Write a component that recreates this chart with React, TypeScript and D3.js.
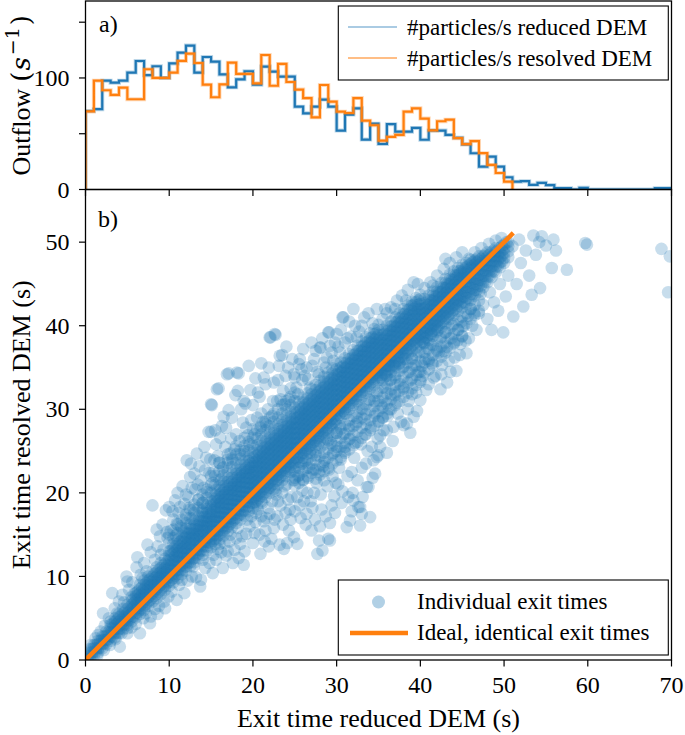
import React from 'react';
import * as d3 from 'd3';

const W = 685;
const H = 735;
const FONT = '"Liberation Serif", "Times New Roman", "DejaVu Serif", serif';
const MATH_FONT = '"DejaVu Serif", "Liberation Serif", serif';
const BLUE = '#1f77b4';
const ORANGE = '#ff7f0e';

// outflow histograms, 1 s bins starting at 0 s
const binWidth = 1;
const reducedCounts = [
  70.4, 72, 97.6, 95.8, 97.6, 104.8, 115.2, 102.5, 110.5, 100,
  113, 122.7, 129, 104.8, 118.8, 114.6, 103.2, 91.6, 98.8, 106,
  94, 110.2, 105.7, 101.2, 101.2, 74.3, 68.3, 74.3, 80.6, 74.3,
  52.8, 67.2, 72.8, 44.8, 59, 40.8, 58.6, 51.8, 51.8, 55.2,
  44.6, 53, 52.8, 48.9, 46.4, 40.5, 32.5, 20.5, 29.4, 20.5,
  11, 7, 7.5, 4.2, 6, 4, 1.2, 1.2, 0, 1.5,
  0, 0, 0, 0, 0, 0, 0, 0, 1.2, 1.2,
];
const resolvedCounts = [
  70, 97.6, 89, 84.8, 91.3, 80.9, 80.9, 107.8, 100, 100,
  104.8, 115.3, 121.8, 113.4, 94, 82.7, 94.2, 113.7, 103.6, 103.6,
  95.2, 120.6, 93, 112.6, 96.4, 89.6, 82, 64.7, 93.7, 78.7,
  69.8, 68.6, 82, 61.7, 57.6, 43.8, 47.2, 48.9, 69.8, 72.8,
  63.6, 53, 61.2, 62.6, 46, 40.6, 43.4, 32.6, 22, 14.8,
  7,
];

const xTicks = [0, 10, 20, 30, 40, 50, 60, 70];
const outflowTicks = [0, 50, 100, 150];
const outflowLabels = [0, 100];
const exitTicks = [0, 10, 20, 30, 40, 50];

// reference line of identical exit times
const idealLine: [number, number][] = [[0, 0], [51.1, 51.1]];

// individual exit times (reduced DEM, resolved DEM), dense band read column by column
const coreColumns: [number, number[]][] = [
  [0.5, [0.1, 0.5, 0.9, 1.3]],
  [1, [0.5, 1.0, 1.4, 1.8]],
  [1.5, [0.9, 1.4, 1.9, 2.3]],
  [2, [1.4, 1.9, 2.4, 2.8]],
  [2.5, [1.9, 2.4, 2.9, 3.4]],
  [3, [2.3, 2.8, 3.3, 3.8, 4.2]],
  [3.5, [2.7, 3.2, 3.7, 4.1, 4.6, 5.0]],
  [4, [3.2, 3.7, 4.1, 4.6, 5.1, 5.5]],
  [4.5, [3.7, 4.2, 4.6, 5.1, 5.6, 6.1]],
  [5, [4.2, 4.7, 5.1, 5.6, 6.1, 6.6]],
  [5.5, [4.6, 5.1, 5.6, 6.1, 6.6, 7.1, 7.5]],
  [6, [5.1, 5.6, 6.1, 6.6, 7.1, 7.6, 8.0]],
  [6.5, [5.5, 6.0, 6.5, 7.0, 7.5, 8.0, 8.5, 9.0]],
  [7, [6.0, 6.5, 7.0, 7.5, 8.0, 8.5, 9.0, 9.5]],
  [7.5, [6.5, 7.0, 7.5, 8.0, 8.5, 9.0, 9.5, 10.0]],
  [8, [7.0, 7.5, 8.0, 8.5, 9.0, 9.5, 10.0, 10.6]],
  [8.5, [7.4, 7.9, 8.5, 9.0, 9.5, 10.0, 10.5, 11.1]],
  [9, [7.9, 8.4, 9.0, 9.5, 10.0, 10.5, 11.0, 11.6]],
  [9.5, [8.4, 8.9, 9.4, 10.0, 10.5, 11.0, 11.5, 12.1]],
  [10, [8.9, 9.4, 9.9, 10.4, 11.0, 11.5, 12.0, 12.5, 13.0]],
  [10.5, [9.3, 9.8, 10.3, 10.8, 11.3, 11.8, 12.3, 12.8, 13.3, 13.9]],
  [11, [9.8, 10.3, 10.8, 11.3, 11.8, 12.3, 12.8, 13.3, 13.8, 14.4]],
  [11.5, [10.3, 10.8, 11.3, 11.8, 12.3, 12.8, 13.3, 13.8, 14.3, 14.9]],
  [12, [10.7, 11.2, 11.7, 12.2, 12.7, 13.2, 13.7, 14.2, 14.7, 15.2, 15.7]],
  [12.5, [11.2, 11.7, 12.2, 12.7, 13.2, 13.7, 14.2, 14.7, 15.2, 15.7, 16.2]],
  [13, [11.7, 12.2, 12.7, 13.2, 13.7, 14.2, 14.7, 15.2, 15.7, 16.2, 16.7]],
  [13.5, [12.2, 12.7, 13.2, 13.7, 14.2, 14.7, 15.2, 15.7, 16.2, 16.7, 17.2]],
  [14, [12.6, 13.1, 13.6, 14.1, 14.6, 15.1, 15.6, 16.1, 16.6, 17.1, 17.6, 18.0]],
  [14.5, [13.1, 13.6, 14.1, 14.6, 15.1, 15.6, 16.1, 16.6, 17.1, 17.6, 18.1, 18.5]],
  [15, [13.5, 14.0, 14.5, 15.0, 15.5, 16.0, 16.5, 17.0, 17.5, 18.0, 18.5, 19.0]],
  [15.5, [13.9, 14.5, 15.0, 15.5, 16.1, 16.6, 17.1, 17.7, 18.2, 18.7, 19.3, 19.8, 20.3]],
  [16, [14.4, 15.0, 15.5, 16.0, 16.6, 17.1, 17.6, 18.2, 18.7, 19.2, 19.8, 20.3, 20.8]],
  [16.5, [14.9, 15.5, 16.0, 16.5, 17.1, 17.6, 18.1, 18.7, 19.2, 19.7, 20.3, 20.8, 21.3]],
  [17, [15.4, 16.0, 16.5, 17.0, 17.6, 18.1, 18.6, 19.2, 19.7, 20.2, 20.8, 21.3, 21.8]],
  [17.5, [15.9, 16.5, 17.0, 17.5, 18.1, 18.6, 19.1, 19.7, 20.2, 20.7, 21.3, 21.8, 22.3]],
  [18, [16.4, 17.0, 17.5, 18.0, 18.6, 19.1, 19.6, 20.2, 20.7, 21.2, 21.8, 22.3, 22.8]],
  [18.5, [16.8, 17.4, 17.9, 18.5, 19.0, 19.6, 20.1, 20.7, 21.2, 21.8, 22.3, 22.8, 23.3]],
  [19, [17.3, 17.9, 18.4, 19.0, 19.5, 20.1, 20.6, 21.2, 21.7, 22.3, 22.8, 23.3, 23.8]],
  [19.5, [17.8, 18.4, 18.9, 19.5, 20.0, 20.6, 21.1, 21.7, 22.2, 22.8, 23.3, 23.8, 24.3]],
  [20, [18.2, 18.8, 19.3, 19.9, 20.4, 21.0, 21.5, 22.1, 22.6, 23.2, 23.7, 24.2, 24.8]],
  [20.5, [18.5, 19.1, 19.7, 20.3, 20.9, 21.5, 22.1, 22.7, 23.3, 23.9, 24.5, 25.1, 25.7]],
  [21, [19.0, 19.6, 20.2, 20.8, 21.4, 22.0, 22.6, 23.2, 23.8, 24.4, 25.0, 25.6, 26.2]],
  [21.5, [19.5, 20.1, 20.7, 21.3, 21.9, 22.5, 23.1, 23.7, 24.3, 24.9, 25.5, 26.1, 26.7]],
  [22, [20.0, 20.6, 21.2, 21.8, 22.4, 23.0, 23.6, 24.2, 24.8, 25.4, 26.0, 26.6, 27.2]],
  [22.5, [20.5, 21.1, 21.7, 22.3, 22.9, 23.5, 24.1, 24.7, 25.3, 25.9, 26.5, 27.1, 27.7]],
  [23, [21.0, 21.6, 22.2, 22.8, 23.4, 24.0, 24.6, 25.2, 25.8, 26.4, 27.0, 27.6, 28.2]],
  [23.5, [21.5, 22.1, 22.7, 23.3, 23.9, 24.5, 25.1, 25.7, 26.3, 26.9, 27.5, 28.1, 28.7]],
  [24, [22.0, 22.6, 23.2, 23.8, 24.4, 25.0, 25.6, 26.2, 26.8, 27.4, 28.0, 28.6, 29.2]],
  [24.5, [22.5, 23.1, 23.7, 24.3, 24.9, 25.5, 26.1, 26.7, 27.3, 27.9, 28.5, 29.1, 29.7]],
  [25, [23.0, 23.6, 24.2, 24.8, 25.4, 26.0, 26.6, 27.2, 27.8, 28.4, 29.0, 29.6, 30.2]],
  [25.5, [23.7, 24.3, 24.9, 25.5, 26.1, 26.7, 27.3, 27.9, 28.5, 29.1, 29.7, 30.3, 30.9]],
  [26, [24.2, 24.8, 25.4, 26.0, 26.6, 27.2, 27.8, 28.4, 29.0, 29.6, 30.2, 30.8, 31.4]],
  [26.5, [24.7, 25.3, 25.9, 26.5, 27.1, 27.7, 28.3, 28.9, 29.5, 30.1, 30.7, 31.3, 31.9]],
  [27, [25.2, 25.8, 26.4, 27.0, 27.6, 28.2, 28.8, 29.4, 30.0, 30.6, 31.2, 31.8, 32.4]],
  [27.5, [25.7, 26.3, 26.9, 27.5, 28.1, 28.7, 29.3, 29.9, 30.5, 31.1, 31.7, 32.3, 32.9]],
  [28, [26.2, 26.8, 27.4, 28.0, 28.6, 29.2, 29.8, 30.4, 31.0, 31.6, 32.2, 32.8, 33.4]],
  [28.5, [26.7, 27.3, 27.9, 28.5, 29.1, 29.7, 30.3, 30.9, 31.5, 32.1, 32.7, 33.3, 33.9]],
  [29, [27.2, 27.8, 28.4, 29.0, 29.6, 30.2, 30.8, 31.4, 32.0, 32.6, 33.2, 33.8, 34.4]],
  [29.5, [27.7, 28.3, 28.9, 29.5, 30.1, 30.7, 31.3, 31.9, 32.5, 33.1, 33.7, 34.3, 34.9]],
  [30, [28.2, 28.8, 29.4, 30.0, 30.6, 31.2, 31.8, 32.4, 33.0, 33.6, 34.2, 34.8, 35.4]],
  [30.5, [29.0, 29.6, 30.2, 30.8, 31.4, 32.0, 32.6, 33.2, 33.8, 34.4, 35.0, 35.6]],
  [31, [29.5, 30.1, 30.7, 31.3, 31.9, 32.5, 33.1, 33.7, 34.3, 34.9, 35.5, 36.1]],
  [31.5, [30.0, 30.6, 31.2, 31.8, 32.4, 33.0, 33.6, 34.2, 34.8, 35.4, 36.0, 36.6]],
  [32, [30.5, 31.1, 31.7, 32.3, 32.9, 33.5, 34.1, 34.7, 35.3, 35.9, 36.5, 37.1]],
  [32.5, [31.0, 31.6, 32.2, 32.8, 33.4, 34.0, 34.6, 35.2, 35.8, 36.4, 37.0, 37.6]],
  [33, [31.5, 32.1, 32.7, 33.3, 33.9, 34.5, 35.1, 35.7, 36.3, 36.9, 37.5, 38.1]],
  [33.5, [32.0, 32.6, 33.2, 33.8, 34.4, 35.0, 35.6, 36.2, 36.8, 37.4, 38.0, 38.6]],
  [34, [32.5, 33.1, 33.7, 34.3, 34.9, 35.5, 36.1, 36.7, 37.3, 37.9, 38.5, 39.1]],
  [34.5, [33.0, 33.6, 34.2, 34.8, 35.4, 36.0, 36.6, 37.2, 37.8, 38.4, 39.0, 39.6]],
  [35, [33.5, 34.1, 34.7, 35.3, 35.9, 36.5, 37.1, 37.7, 38.3, 38.9, 39.5, 40.1]],
  [35.5, [33.5, 34.1, 34.7, 35.3, 35.9, 36.5, 37.1, 37.7, 38.3, 38.9, 39.5]],
  [36, [34.0, 34.6, 35.2, 35.8, 36.4, 37.0, 37.6, 38.2, 38.8, 39.4, 40.0]],
  [36.5, [34.5, 35.1, 35.7, 36.3, 36.9, 37.5, 38.1, 38.7, 39.3, 39.9, 40.5]],
  [37, [35.0, 35.6, 36.2, 36.8, 37.4, 38.0, 38.6, 39.2, 39.8, 40.4, 41.0]],
  [37.5, [35.5, 36.1, 36.7, 37.3, 37.9, 38.5, 39.1, 39.7, 40.3, 40.9, 41.5]],
  [38, [36.0, 36.6, 37.2, 37.8, 38.4, 39.0, 39.6, 40.2, 40.8, 41.4, 42.0]],
  [38.5, [36.5, 37.1, 37.7, 38.3, 38.9, 39.5, 40.1, 40.7, 41.3, 41.9, 42.4]],
  [39, [37.0, 37.6, 38.2, 38.8, 39.4, 40.0, 40.6, 41.2, 41.8, 42.4, 42.9]],
  [39.5, [37.4, 38.0, 38.6, 39.2, 39.8, 40.4, 41.0, 41.6, 42.2, 42.8, 43.3]],
  [40, [37.8, 38.4, 39.0, 39.6, 40.2, 40.8, 41.4, 42.0, 42.6, 43.2, 43.7]],
  [40.5, [37.9, 38.5, 39.1, 39.7, 40.3, 40.9, 41.5, 42.1, 42.7, 43.2]],
  [41, [38.3, 38.9, 39.5, 40.1, 40.7, 41.3, 41.9, 42.5, 43.1, 43.6]],
  [41.5, [38.8, 39.4, 40.0, 40.6, 41.2, 41.8, 42.4, 43.0, 43.6, 44.1]],
  [42, [39.3, 39.9, 40.5, 41.1, 41.7, 42.3, 42.9, 43.5, 44.1, 44.6]],
  [42.5, [39.8, 40.4, 41.0, 41.6, 42.2, 42.8, 43.4, 44.0, 44.6, 45.1]],
  [43, [40.3, 40.9, 41.5, 42.1, 42.7, 43.3, 43.9, 44.5, 45.1, 45.6]],
  [43.5, [40.8, 41.4, 42.0, 42.6, 43.2, 43.8, 44.4, 45.0, 45.6, 46.1]],
  [44, [41.3, 41.9, 42.5, 43.1, 43.7, 44.3, 44.9, 45.5, 46.1, 46.5]],
  [44.5, [41.8, 42.4, 43.0, 43.6, 44.2, 44.8, 45.4, 46.0, 46.5, 46.9]],
  [45, [42.2, 42.8, 43.4, 44.0, 44.6, 45.2, 45.8, 46.4, 46.9, 47.3]],
  [45.5, [42.6, 43.3, 44.0, 44.6, 45.2, 45.8, 46.4, 47.0, 47.5]],
  [46, [43.1, 43.8, 44.5, 45.1, 45.7, 46.3, 46.9, 47.4, 47.9]],
  [46.5, [43.6, 44.3, 45.0, 45.6, 46.2, 46.8, 47.3, 47.8]],
  [47, [44.1, 44.8, 45.5, 46.1, 46.7, 47.3, 47.8, 48.3]],
  [47.5, [44.6, 45.3, 46.0, 46.6, 47.2, 47.8, 48.3]],
  [48, [45.2, 45.9, 46.6, 47.2, 47.8, 48.3, 48.8]],
  [48.5, [45.8, 46.5, 47.1, 47.7, 48.3, 48.8]],
  [49, [46.4, 47.1, 47.7, 48.3, 48.8, 49.3]],
  [49.5, [47.0, 47.6, 48.2, 48.8, 49.3]],
  [50, [47.5, 48.1, 48.7, 49.2, 49.7]],
  [50.5, [48.2, 48.9, 49.5, 50.0]],
];

// centre of the band, between the columns above
const innerColumns: [number, number[]][] = [
  [0.25, [0.1, 0.5]],
  [0.75, [0.5, 0.9, 1.3]],
  [1.25, [1.0, 1.4, 1.8]],
  [1.75, [1.5, 1.9, 2.3]],
  [2.25, [2.0, 2.4, 2.8]],
  [2.75, [2.5, 2.9, 3.3]],
  [3.25, [2.8, 3.3, 3.8, 4.3]],
  [3.75, [3.3, 3.8, 4.3, 4.8]],
  [4.25, [3.8, 4.3, 4.8, 5.3]],
  [4.75, [4.3, 4.8, 5.3, 5.8]],
  [5.25, [4.8, 5.3, 5.8, 6.3]],
  [5.75, [5.2, 5.8, 6.3, 6.8, 7.3]],
  [6.25, [5.7, 6.3, 6.8, 7.3, 7.8, 8.2]],
  [6.75, [6.2, 6.8, 7.3, 7.8, 8.3, 8.7]],
  [7.25, [6.7, 7.3, 7.8, 8.3, 8.8, 9.2]],
  [7.75, [7.2, 7.8, 8.3, 8.8, 9.3, 9.7]],
  [8.25, [7.7, 8.3, 8.8, 9.3, 9.8, 10.3]],
  [8.75, [8.2, 8.8, 9.3, 9.8, 10.3, 10.8]],
  [9.25, [8.7, 9.3, 9.8, 10.3, 10.8, 11.3]],
  [9.75, [9.2, 9.8, 10.3, 10.8, 11.3, 11.8]],
  [10.25, [9.6, 10.2, 10.8, 11.4, 12.0, 12.6, 13.1]],
  [10.75, [10.1, 10.7, 11.3, 11.9, 12.5, 13.1, 13.6]],
  [11.25, [10.6, 11.2, 11.8, 12.4, 13.0, 13.6, 14.1]],
  [11.75, [11.1, 11.7, 12.3, 12.9, 13.5, 14.1, 14.6]],
  [12.25, [11.6, 12.2, 12.8, 13.4, 14.0, 14.6, 15.1]],
  [12.75, [12.1, 12.7, 13.3, 13.9, 14.5, 15.1, 15.6]],
  [13.25, [12.6, 13.2, 13.8, 14.4, 15.0, 15.6, 16.1]],
  [13.75, [13.1, 13.7, 14.3, 14.9, 15.5, 16.1, 16.6]],
  [14.25, [13.6, 14.2, 14.8, 15.4, 16.0, 16.6, 17.1]],
  [14.75, [14.1, 14.7, 15.3, 15.9, 16.5, 17.1, 17.6]],
  [15.25, [14.3, 14.9, 15.5, 16.1, 16.7, 17.3, 17.9, 18.5, 19.0]],
  [15.75, [14.8, 15.4, 16.0, 16.6, 17.2, 17.8, 18.4, 19.0, 19.5]],
  [16.25, [15.3, 15.9, 16.5, 17.1, 17.7, 18.3, 18.9, 19.5, 20.0]],
  [16.75, [15.8, 16.4, 17.0, 17.6, 18.2, 18.8, 19.4, 20.0, 20.5]],
  [17.25, [16.3, 16.9, 17.5, 18.1, 18.7, 19.3, 19.9, 20.5, 21.0]],
  [17.75, [16.8, 17.4, 18.0, 18.6, 19.2, 19.8, 20.4, 21.0, 21.5]],
  [18.25, [17.3, 17.9, 18.5, 19.1, 19.7, 20.3, 20.9, 21.5, 22.0]],
  [18.75, [17.8, 18.4, 19.0, 19.6, 20.2, 20.8, 21.4, 22.0, 22.5]],
  [19.25, [18.3, 18.9, 19.5, 20.1, 20.7, 21.3, 21.9, 22.5, 23.0]],
  [19.75, [18.8, 19.4, 20.0, 20.6, 21.2, 21.8, 22.4, 23.0, 23.5]],
  [20.25, [18.9, 19.5, 20.1, 20.7, 21.3, 21.9, 22.5, 23.1, 23.7, 24.3]],
  [20.75, [19.4, 20.0, 20.6, 21.2, 21.8, 22.4, 23.0, 23.6, 24.2, 24.8]],
  [21.25, [19.9, 20.5, 21.1, 21.7, 22.3, 22.9, 23.5, 24.1, 24.7, 25.3]],
  [21.75, [20.4, 21.0, 21.6, 22.2, 22.8, 23.4, 24.0, 24.6, 25.2, 25.8]],
  [22.25, [20.9, 21.5, 22.1, 22.7, 23.3, 23.9, 24.5, 25.1, 25.7, 26.3]],
  [22.75, [21.4, 22.0, 22.6, 23.2, 23.8, 24.4, 25.0, 25.6, 26.2, 26.8]],
  [23.25, [21.9, 22.5, 23.1, 23.7, 24.3, 24.9, 25.5, 26.1, 26.7, 27.3]],
  [23.75, [22.4, 23.0, 23.6, 24.2, 24.8, 25.4, 26.0, 26.6, 27.2, 27.8]],
  [24.25, [22.9, 23.5, 24.1, 24.7, 25.3, 25.9, 26.5, 27.1, 27.7, 28.3]],
  [24.75, [23.4, 24.0, 24.6, 25.2, 25.8, 26.4, 27.0, 27.6, 28.2, 28.8]],
  [25.25, [24.1, 24.7, 25.3, 25.9, 26.5, 27.1, 27.7, 28.3, 28.9, 29.5]],
  [25.75, [24.6, 25.2, 25.8, 26.4, 27.0, 27.6, 28.2, 28.8, 29.4, 30.0]],
  [26.25, [25.1, 25.7, 26.3, 26.9, 27.5, 28.1, 28.7, 29.3, 29.9, 30.5]],
  [26.75, [25.6, 26.2, 26.8, 27.4, 28.0, 28.6, 29.2, 29.8, 30.4, 31.0]],
  [27.25, [26.1, 26.7, 27.3, 27.9, 28.5, 29.1, 29.7, 30.3, 30.9, 31.5]],
  [27.75, [26.6, 27.2, 27.8, 28.4, 29.0, 29.6, 30.2, 30.8, 31.4, 32.0]],
  [28.25, [27.1, 27.7, 28.3, 28.9, 29.5, 30.1, 30.7, 31.3, 31.9, 32.5]],
  [28.75, [27.6, 28.2, 28.8, 29.4, 30.0, 30.6, 31.2, 31.8, 32.4, 33.0]],
  [29.25, [28.1, 28.7, 29.3, 29.9, 30.5, 31.1, 31.7, 32.3, 32.9, 33.5]],
  [29.75, [28.6, 29.2, 29.8, 30.4, 31.0, 31.6, 32.2, 32.8, 33.4, 34.0]],
  [30.25, [29.3, 29.9, 30.5, 31.1, 31.7, 32.3, 32.9, 33.5, 34.1, 34.6]],
  [30.75, [29.8, 30.4, 31.0, 31.6, 32.2, 32.8, 33.4, 34.0, 34.6, 35.1]],
  [31.25, [30.3, 30.9, 31.5, 32.1, 32.7, 33.3, 33.9, 34.5, 35.1, 35.6]],
  [31.75, [30.8, 31.4, 32.0, 32.6, 33.2, 33.8, 34.4, 35.0, 35.6, 36.1]],
  [32.25, [31.3, 31.9, 32.5, 33.1, 33.7, 34.3, 34.9, 35.5, 36.1, 36.6]],
  [32.75, [31.8, 32.4, 33.0, 33.6, 34.2, 34.8, 35.4, 36.0, 36.6, 37.1]],
  [33.25, [32.3, 32.9, 33.5, 34.1, 34.7, 35.3, 35.9, 36.5, 37.1, 37.6]],
  [33.75, [32.8, 33.4, 34.0, 34.6, 35.2, 35.8, 36.4, 37.0, 37.6, 38.1]],
  [34.25, [33.3, 33.9, 34.5, 35.1, 35.7, 36.3, 36.9, 37.5, 38.1, 38.6]],
  [34.75, [33.8, 34.4, 35.0, 35.6, 36.2, 36.8, 37.4, 38.0, 38.6, 39.1]],
  [35.25, [33.8, 34.4, 35.0, 35.6, 36.2, 36.8, 37.4, 38.0, 38.5]],
  [35.75, [34.3, 34.9, 35.5, 36.1, 36.7, 37.3, 37.9, 38.5, 39.0]],
  [36.25, [34.8, 35.4, 36.0, 36.6, 37.2, 37.8, 38.4, 39.0, 39.5]],
  [36.75, [35.3, 35.9, 36.5, 37.1, 37.7, 38.3, 38.9, 39.5, 40.0]],
  [37.25, [35.8, 36.4, 37.0, 37.6, 38.2, 38.8, 39.4, 40.0, 40.5]],
  [37.75, [36.3, 36.9, 37.5, 38.1, 38.7, 39.3, 39.9, 40.5, 41.0]],
  [38.25, [36.8, 37.4, 38.0, 38.6, 39.2, 39.8, 40.4, 41.0, 41.5]],
  [38.75, [37.3, 37.9, 38.5, 39.1, 39.7, 40.3, 40.9, 41.5, 42.0]],
  [39.25, [37.8, 38.4, 39.0, 39.6, 40.2, 40.8, 41.4, 42.0, 42.5]],
  [39.75, [38.3, 38.9, 39.5, 40.1, 40.7, 41.3, 41.9, 42.5, 43.0]],
  [40.25, [38.1, 38.7, 39.3, 39.9, 40.5, 41.1, 41.7, 42.0]],
  [40.75, [38.6, 39.2, 39.8, 40.4, 41.0, 41.6, 42.2, 42.5]],
  [41.25, [39.1, 39.7, 40.3, 40.9, 41.5, 42.1, 42.7, 43.0]],
  [41.75, [39.6, 40.2, 40.8, 41.4, 42.0, 42.6, 43.2, 43.5]],
  [42.25, [40.1, 40.7, 41.3, 41.9, 42.5, 43.1, 43.7, 44.0]],
  [42.75, [40.6, 41.2, 41.8, 42.4, 43.0, 43.6, 44.2, 44.5]],
  [43.25, [41.1, 41.7, 42.3, 42.9, 43.5, 44.1, 44.7, 45.0]],
  [43.75, [41.6, 42.2, 42.8, 43.4, 44.0, 44.6, 45.2, 45.5]],
  [44.25, [42.1, 42.7, 43.3, 43.9, 44.5, 45.1, 45.7, 46.0]],
  [44.75, [42.6, 43.2, 43.8, 44.4, 45.0, 45.6, 46.2, 46.5]],
  [45.25, [42.8, 43.5, 44.2, 44.9, 45.6, 46.2, 46.7]],
  [45.75, [43.3, 44.0, 44.7, 45.4, 46.1, 46.7, 47.2]],
  [46.25, [43.8, 44.5, 45.2, 45.9, 46.6, 47.2, 47.6]],
  [46.75, [44.3, 45.0, 45.7, 46.4, 47.1, 47.6, 48.0]],
  [47.25, [44.8, 45.5, 46.2, 46.9, 47.5, 48.0]],
  [47.75, [45.3, 46.0, 46.7, 47.4, 48.0, 48.5]],
  [48.25, [45.9, 46.6, 47.3, 47.9, 48.5]],
  [48.75, [46.5, 47.2, 47.8, 48.4, 49.0]],
  [49.25, [47.1, 47.8, 48.4, 49.0]],
  [49.75, [47.7, 48.4, 49.0, 49.5]],
];

// medium-density shoulder just below the band (x 25-47 s)
const lowerShoulder: [number, number[]][] = [
  [25, [22.6, 21.8, 20.9]], [25.5, [23.0, 22.1, 21.2]], [26, [23.5, 22.6, 21.6]], [26.5, [24.0, 23.0, 22.0]],
  [27, [24.4, 23.5, 22.4]], [27.5, [24.9, 23.9, 22.8, 21.7]], [28, [25.4, 24.4, 23.3, 22.2]],
  [28.5, [25.8, 24.8, 23.7, 22.6]], [29, [26.3, 25.3, 24.2, 23.0]], [29.5, [26.8, 25.7, 24.6, 23.5]],
  [30, [27.2, 26.2, 25.0, 23.9]], [30.5, [27.7, 26.6, 25.5, 24.3]], [31, [28.2, 27.1, 26.0, 24.8]],
  [31.5, [28.7, 27.6, 26.4, 25.2]], [32, [29.2, 28.0, 26.9, 25.7]], [32.5, [29.6, 28.5, 27.3, 26.1]],
  [33, [30.1, 29.0, 27.8, 26.6]], [33.5, [30.6, 29.4, 28.2, 27.0]], [34, [31.1, 29.9, 28.7, 27.5]],
  [34.5, [31.6, 30.4, 29.2, 28.0]], [35, [32.2, 31.0, 29.8, 28.6]], [35.5, [32.6, 31.4, 30.2, 29.0]],
  [36, [33.1, 31.9, 30.7, 29.5]], [36.5, [33.6, 32.4, 31.2, 30.0]], [37, [34.1, 32.9, 31.7, 30.5]],
  [37.5, [34.6, 33.4, 32.2, 31.0]], [38, [35.1, 33.9, 32.7, 31.5]], [38.5, [35.6, 34.4, 33.2, 32.0]],
  [39, [36.1, 34.9, 33.7, 32.5]], [39.5, [36.5, 35.3, 34.1, 32.9]], [40, [36.9, 35.7, 34.5, 33.3]],
  [40.5, [36.8, 35.6, 34.4]], [41, [37.2, 36.0, 34.8]], [41.5, [37.7, 36.5, 35.3]], [42, [38.2, 37.0, 35.8]],
  [42.5, [38.7, 37.5, 36.3]], [43, [39.2, 38.0, 36.8]], [43.5, [39.7, 38.5, 37.3]], [44, [40.2, 39.0, 37.8]],
  [44.5, [40.7, 39.5, 38.3]], [45, [41.1, 39.9, 38.7]], [45.5, [41.5, 40.3]], [46, [42.0, 40.8]],
  [46.5, [42.5, 41.3]], [47, [43.0, 41.8]],
];

// medium-density shoulder just above the band (x 10-25 s)
const upperShoulder: [number, number[]][] = [
  [10, [14.0, 15.0]], [10.5, [14.6, 15.6]], [11, [15.2, 16.2]], [11.5, [15.8, 16.8]], [12, [16.4, 17.4]],
  [12.5, [17.0, 18.0]], [13, [17.6, 18.6]], [13.5, [18.2, 19.2]], [14, [18.8, 19.8]], [14.5, [19.4, 20.4]],
  [15, [20.0, 21.0, 22.0]], [15.5, [21.0, 22.0]], [16, [21.6, 22.6, 23.6]], [16.5, [22.1, 23.1]],
  [17, [22.6, 23.6, 24.6]], [17.5, [23.1, 24.1]], [18, [23.6, 24.6, 25.6]], [18.5, [24.1, 25.1]],
  [19, [24.6, 25.6, 26.6]], [19.5, [25.1, 26.1]], [20, [25.6, 26.6, 27.6]], [20.5, [26.5, 27.5]],
  [21, [27.0, 28.0]], [21.5, [27.5, 28.5]], [22, [28.0, 29.0]], [22.5, [28.5, 29.5]], [23, [29.0, 30.0]],
  [23.5, [29.5, 30.5]], [24, [30.0, 31.0]], [24.5, [30.5, 31.5]], [25, [31.0, 32.0]],
];

// scattered exit times above the identical line (resolved slower)
const spreadAbove: [number, number][] = [
  [0.6, 1.8], [1.2, 2.6], [1.5, 3.0], [1.8, 3.4], [2.3, 4.1], [2.1, 5.6], [2.8, 5.0], [3.0, 4.6],
  [3.2, 8.0], [3.5, 6.2], [3.8, 5.6], [4.0, 7.0], [4.4, 7.8], [4.6, 6.9], [4.9, 10.0], [5.0, 9.4],
  [5.2, 8.4], [5.6, 9.3], [5.8, 7.9], [6.1, 11.1], [6.2, 12.3], [6.6, 10.2], [6.8, 9.8], [7.0, 11.6],
  [7.3, 10.6], [7.4, 13.8], [7.8, 12.9], [8.0, 18.5], [8.3, 12.0], [8.6, 13.6], [8.9, 14.8], [9.0, 12.6],
  [9.3, 13.2], [9.6, 17.9], [9.8, 14.6], [10.0, 18.3], [10.2, 15.5], [10.5, 16.8], [10.7, 19.1], [10.8, 14.9],
  [11.0, 20.0], [11.1, 17.6], [11.4, 16.0], [11.7, 15.4], [11.8, 18.7], [12.0, 17.0], [12.1, 23.9], [12.3, 19.5],
  [12.5, 21.9], [12.6, 23.5], [12.8, 16.9], [12.9, 18.0], [13.1, 20.4], [13.3, 24.7], [13.5, 19.2], [13.8, 21.5],
  [13.9, 17.8], [14.0, 18.8], [14.2, 25.5], [14.3, 22.7], [14.5, 20.1], [14.7, 27.3], [14.9, 24.0], [15.0, 30.6],
  [15.0, 27.3], [15.1, 30.5], [15.3, 22.5], [15.4, 23.9], [15.6, 25.8], [15.7, 32.4], [15.9, 32.5], [16.0, 23.6],
  [16.2, 21.6], [16.3, 28.0], [16.5, 29.1], [16.7, 25.5], [16.9, 34.2], [17.1, 29.9], [17.1, 34.3], [17.3, 24.7],
  [17.4, 26.5], [17.6, 23.9], [17.9, 31.7], [18.0, 27.0], [18.1, 34.4], [18.3, 34.3], [18.5, 24.6], [18.6, 30.0],
  [18.8, 28.4], [19.0, 25.0], [19.1, 30.7], [19.4, 26.9], [19.5, 35.2], [19.7, 32.3], [19.8, 28.7], [20.3, 33.7],
  [20.5, 29.0], [20.8, 31.5], [20.9, 27.8], [21.0, 35.5], [21.2, 28.5], [21.5, 33.0], [21.8, 30.0], [22.0, 38.6],
  [22.1, 38.6], [22.4, 31.0], [22.6, 39.0], [22.7, 38.9], [23.0, 33.5], [23.2, 36.4], [23.3, 31.2], [23.5, 36.5],
  [23.8, 30.6], [24.0, 37.5], [24.2, 35.0], [24.5, 32.5], [24.9, 34.2], [25.2, 32.6], [25.5, 35.4], [25.6, 36.0],
  [25.9, 33.5], [26.2, 34.0], [26.4, 35.0], [26.8, 32.6], [27.0, 38.0], [27.3, 36.0], [27.7, 34.5], [28.0, 37.4],
  [28.1, 37.4], [28.5, 35.6], [28.8, 36.2], [29.0, 39.2], [29.1, 39.2], [29.4, 36.8], [29.8, 38.0], [30.2, 37.5],
  [30.5, 39.5], [30.7, 41.0], [30.8, 41.0], [31.3, 38.5], [31.7, 38.7], [32.0, 42.0], [32.2, 40.0], [32.7, 39.3],
  [33.0, 40.0], [33.3, 41.0], [33.8, 41.5], [34.3, 40.3], [34.8, 42.0], [35.5, 40.8], [35.8, 42.0], [36.0, 41.5],
  [36.5, 42.2], [37.0, 42.0], [37.2, 43.0], [37.8, 43.6], [38.3, 43.0], [38.5, 44.3], [39.2, 45.2], [39.7, 45.0],
  [40.5, 44.5], [41.2, 45.2], [41.5, 44.8], [42.0, 46.0], [42.8, 46.8], [43.0, 48.0], [43.5, 47.5], [44.3, 48.2],
  [45.0, 48.8], [45.8, 48.0], [46.5, 48.8], [47.3, 49.3], [48.2, 49.8], [49.0, 50.2], [49.7, 50.5], [50.3, 50.0],
  [8.5, 15.6], [9.2, 16.2], [9.7, 15.3], [10.4, 17.8], [10.9, 16.3], [11.3, 18.3], [11.6, 20.8], [12.0, 19.8],
  [12.4, 18.2], [12.7, 20.6], [13.0, 22.3], [13.4, 21.0], [13.6, 23.2], [14.1, 20.6], [14.4, 24.2], [14.8, 22.4],
  [15.2, 21.2], [15.5, 27.5], [15.8, 24.4], [16.1, 26.6], [16.4, 23.0], [16.8, 27.8], [17.0, 24.0], [17.5, 29.0],
  [17.8, 25.2], [18.2, 32.2], [18.4, 26.2], [18.9, 31.0], [19.2, 27.8], [19.6, 25.8], [20.0, 30.5], [20.2, 27.0],
  [20.6, 32.0], [21.0, 29.5], [21.3, 33.8], [21.6, 28.2], [21.9, 35.0], [22.3, 29.2], [22.5, 33.2], [22.9, 31.0],
  [23.1, 35.2], [23.6, 32.2], [23.9, 34.0], [24.3, 31.2], [24.7, 36.0], [25.0, 33.8], [25.4, 31.8], [25.8, 34.8],
  [26.0, 37.2], [26.6, 33.6], [27.1, 35.2], [27.5, 37.0], [27.9, 34.2], [28.3, 38.5], [28.7, 35.0], [29.2, 37.6],
  [29.6, 35.8], [30.0, 39.0], [30.4, 36.8], [31.0, 38.0], [31.5, 40.5], [32.4, 38.6],
];

// scattered exit times below the identical line (resolved faster)
const spreadBelow: [number, number][] = [
  [1.4, 0.5], [2.2, 1.2], [2.9, 1.8], [3.6, 2.5], [4.1, 1.6], [4.3, 3.2], [5.0, 3.2], [5.0, 3.8],
  [5.5, 3.9], [6.0, 4.3], [6.5, 3.2], [6.9, 5.0], [7.2, 5.6], [7.7, 4.4], [7.8, 5.2], [8.3, 6.1],
  [8.6, 5.5], [8.8, 6.5], [9.4, 7.0], [9.5, 6.2], [9.9, 7.6], [10.3, 8.2], [10.9, 7.2], [11.2, 9.0],
  [11.5, 9.6], [11.8, 8.0], [12.2, 9.5], [12.7, 10.0], [12.9, 11.2], [13.2, 9.9], [13.7, 8.8], [13.8, 9.6],
  [14.0, 12.0], [14.3, 11.0], [14.8, 11.6], [15.2, 10.4], [15.3, 12.6], [15.8, 13.3], [16.2, 12.9], [16.4, 11.0],
  [16.6, 14.0], [17.0, 13.0], [17.3, 15.0], [17.6, 11.6], [18.0, 14.6], [18.3, 12.2], [18.5, 13.9], [18.9, 11.4],
  [19.0, 13.0], [19.2, 15.1], [19.6, 16.0], [20.0, 14.0], [20.3, 16.5], [20.6, 18.0], [20.9, 12.7], [21.0, 17.2],
  [21.3, 16.6], [21.5, 15.5], [21.8, 18.2], [22.0, 17.5], [22.2, 14.5], [22.6, 16.8], [22.8, 19.8], [23.0, 19.0],
  [23.2, 13.8], [23.5, 20.0], [23.7, 13.3], [23.9, 17.6], [24.0, 21.0], [24.3, 15.5], [24.4, 18.0], [24.6, 19.5],
  [24.9, 14.7], [25.0, 21.5], [25.3, 13.9], [25.3, 19.5], [25.7, 17.0], [25.8, 23.5], [26.0, 21.5], [26.4, 17.5],
  [26.5, 20.0], [26.7, 23.0], [26.9, 19.0], [27.0, 15.5], [27.3, 20.0], [27.5, 24.5], [27.7, 12.7], [27.9, 22.5],
  [28.0, 16.0], [28.2, 18.0], [28.3, 13.1], [28.5, 21.5], [28.6, 24.0], [28.9, 20.8], [29.0, 14.5], [29.2, 14.3],
  [29.3, 26.0], [29.5, 22.0], [29.7, 19.6], [29.8, 17.6], [30.0, 25.5], [30.2, 21.0], [30.5, 24.0], [30.6, 18.8],
  [30.8, 27.0], [31.0, 25.5], [31.2, 15.9], [31.4, 19.5], [31.5, 28.0], [31.6, 16.7], [31.8, 22.5], [32.0, 19.1],
  [32.2, 26.0], [32.4, 29.0], [32.6, 18.3], [32.8, 16.1], [32.8, 18.3], [33.0, 23.0], [33.2, 30.0], [33.4, 27.0],
  [33.6, 20.7], [33.7, 25.0], [33.8, 20.7], [34.0, 17.1], [34.2, 25.5], [34.4, 23.9], [34.5, 31.0], [34.6, 22.3],
  [34.8, 24.3], [34.9, 26.5], [35.0, 28.5], [35.2, 26.9], [35.2, 25.5], [35.5, 29.0], [35.8, 31.0], [35.9, 34.0],
  [36.0, 27.5], [36.3, 30.0], [36.4, 33.5], [36.8, 27.9], [36.9, 35.2], [37.0, 32.0], [37.3, 29.5], [37.6, 33.0],
  [37.9, 35.0], [38.0, 28.1], [38.4, 28.3], [38.6, 31.0], [38.9, 33.5], [39.0, 36.0], [39.2, 29.1], [39.5, 32.0],
  [39.8, 34.5], [40.0, 31.1], [40.3, 34.0], [40.6, 36.0], [40.8, 37.3], [41.0, 33.0], [41.2, 37.8], [41.4, 35.5],
  [41.8, 34.0], [42.2, 36.8], [42.4, 32.4], [42.4, 38.5], [42.6, 35.3], [43.2, 33.2], [43.2, 37.5], [43.6, 34.5],
  [43.8, 40.0], [44.0, 38.0], [44.3, 34.6], [44.7, 36.5], [44.9, 40.5], [45.0, 38.8], [45.5, 36.7], [45.8, 38.5],
  [46.0, 42.0], [46.2, 40.0], [46.7, 39.5], [47.0, 41.5], [47.2, 43.8], [47.5, 42.5], [48.0, 40.8], [48.3, 44.0],
  [48.5, 39.5], [48.8, 42.8], [49.3, 41.8], [49.5, 45.0], [49.9, 39.2], [50.2, 43.5], [50.5, 46.0],
  [15.6, 12.0], [16.0, 13.9], [16.8, 12.5], [17.2, 14.2], [17.8, 13.2], [18.2, 15.8], [18.7, 14.8], [19.3, 16.8],
  [19.8, 17.2], [20.2, 15.2], [20.4, 17.6], [20.8, 15.0], [21.1, 18.8], [21.6, 17.0], [21.9, 13.6], [22.3, 19.0],
  [22.5, 15.8], [22.9, 17.2], [23.3, 18.5], [23.6, 16.2], [23.8, 20.8], [24.2, 19.2], [24.5, 16.8], [24.8, 21.5],
  [25.0, 17.8], [21.4, 14.2], [22.7, 20.3], [24.1, 14.0], [25.4, 22.0], [25.6, 18.5], [25.9, 20.3], [26.2, 23.8],
  [26.3, 16.2], [26.6, 21.8], [26.8, 24.8], [27.1, 18.2], [27.2, 22.8], [27.4, 16.8], [27.6, 21.2], [27.8, 25.8],
  [28.1, 19.8], [28.4, 23.2], [28.7, 17.2], [28.8, 26.5], [29.1, 22.8], [29.4, 18.5], [29.6, 24.8], [29.9, 21.2],
  [30.0, 27.2], [26.1, 19.0], [27.9, 14.3], [29.2, 16.4], [30.3, 23.0], [30.4, 28.0], [30.7, 20.2], [30.9, 25.0],
  [31.1, 29.5], [31.3, 22.0], [31.6, 26.5], [31.9, 20.0], [32.1, 24.2], [32.3, 28.2], [32.5, 21.5], [32.7, 30.5],
  [32.9, 25.8], [33.1, 19.5], [33.3, 28.8], [33.5, 23.5], [33.9, 31.2], [34.1, 27.8], [34.3, 21.8], [34.6, 29.5],
  [34.8, 32.0], [35.0, 24.5], [31.8, 17.8], [33.0, 17.5], [35.3, 30.5], [35.6, 27.5], [35.8, 32.5], [36.1, 29.2],
  [36.2, 35.2], [36.5, 31.8], [36.7, 26.2], [37.0, 33.8], [37.2, 30.8], [37.5, 35.5], [37.7, 28.5], [38.0, 32.5],
  [38.2, 36.0], [38.5, 30.0], [38.7, 34.5], [39.0, 31.8], [39.3, 35.2], [39.6, 29.8], [39.8, 36.8], [40.0, 33.5],
  [36.0, 24.8], [38.8, 27.2], [40.2, 35.2], [40.4, 38.0], [40.7, 32.3], [41.0, 35.8], [41.3, 39.0], [41.6, 33.8],
  [41.9, 37.2], [42.1, 39.5], [42.5, 34.2], [42.8, 37.0], [43.0, 39.2], [43.4, 35.8], [43.7, 38.5], [44.1, 36.2],
  [44.5, 39.5], [44.8, 37.8], [45.2, 40.0], [45.4, 38.2], [45.7, 41.2], [46.4, 41.5],
];

// late exits beyond 50 s
const tailPoints: [number, number][] = [
  [51.0, 49.5], [51.1, 41.1], [51.5, 45.0], [51.8, 50.3], [52.0, 47.5], [52.3, 42.3], [52.6, 49.0], [53.0, 46.0],
  [53.3, 43.7], [53.5, 50.8], [53.8, 48.5], [54.2, 50.0], [54.3, 44.5], [54.5, 50.7], [55.0, 49.6], [55.7, 46.9],
  [55.9, 50.3], [56.2, 49.0], [57.5, 46.7], [59.7, 49.9], [59.9, 49.7], [68.8, 49.2], [69.6, 44.0], [69.8, 48.3],
];

const X0 = 85.5;
const X1 = 671.5;
const TOP_A = 1;
const BOT_A = 189.5;
const BOT_B = 660;

const x = d3.scaleLinear().domain([0, 70]).range([X0, X1]);
const yA = d3.scaleLinear().domain([0, 169]).range([BOT_A, TOP_A]);
const yB = d3.scaleLinear().domain([0, 56.3]).range([BOT_B, BOT_A]);

const stepPath = (counts: number[]) => {
  const pts: [number, number][] = [[0, 0]];
  counts.forEach((c, i) => pts.push([i * binWidth, c]));
  pts.push([counts.length * binWidth, 0]);
  return d3.line<[number, number]>()
    .x(d => x(d[0]))
    .y(d => yA(d[1]))
    .curve(d3.curveStepAfter)(pts) as string;
};

const fromColumns = (cols: [number, number[]][]) =>
  cols.flatMap(([cx, ys]) => ys.map(v => [cx, v] as [number, number]));

const allPoints: [number, number][] = [
  ...fromColumns(coreColumns),
  ...fromColumns(innerColumns),
  ...fromColumns(lowerShoulder),
  ...fromColumns(upperShoulder),
  ...spreadAbove,
  ...spreadBelow,
  ...tailPoints,
];

const idealPath = d3.line<[number, number]>().x(d => x(d[0])).y(d => yB(d[1]))(idealLine) as string;

const tickFs = 24;
const labelFs = 26;
const legendFs = 23;

export default function App() {
  return (
    <svg width={W} height={H} style={{ position: 'absolute', left: 0, top: 0, background: '#fff' }}
      fontFamily={FONT}>
      <defs>
        <clipPath id="clipA"><rect x={X0} y={TOP_A} width={X1 - X0} height={BOT_A - TOP_A} /></clipPath>
        <clipPath id="clipB"><rect x={X0} y={BOT_A} width={X1 - X0} height={BOT_B - BOT_A} /></clipPath>
      </defs>
      <rect width={W} height={H} fill="#fff" />

      {/* panel a: outflow histograms */}
      <g clipPath="url(#clipA)">
        <path d={stepPath(reducedCounts)} fill="none" stroke={BLUE} strokeWidth={4} strokeOpacity={0.3} />
        <path d={stepPath(reducedCounts)} fill="none" stroke={BLUE} strokeWidth={2.2} />
        <path d={stepPath(resolvedCounts)} fill="none" stroke={ORANGE} strokeWidth={4} strokeOpacity={0.3} />
        <path d={stepPath(resolvedCounts)} fill="none" stroke={ORANGE} strokeWidth={2.2} />
      </g>

      {/* panel b: exit time scatter */}
      <g clipPath="url(#clipB)">
        {allPoints.map((p, i) => (
          <circle key={i} cx={x(p[0])} cy={yB(p[1])} r={6.3} fill={BLUE} fillOpacity={0.25} />
        ))}
        <path d={idealPath} fill="none" stroke={ORANGE} strokeWidth={4.5} />
      </g>

      {/* spines */}
      <rect x={X0} y={TOP_A} width={X1 - X0} height={BOT_A - TOP_A} fill="none" stroke="#000" strokeWidth={1.3} />
      <rect x={X0} y={BOT_A} width={X1 - X0} height={BOT_B - BOT_A} fill="none" stroke="#000" strokeWidth={1.3} />

      {/* panel a ticks */}
      {xTicks.map(t => (
        <line key={'xa' + t} x1={x(t)} x2={x(t)} y1={BOT_A} y2={BOT_A + 6.5} stroke="#000" strokeWidth={1.2} />
      ))}
      {outflowTicks.map(t => (
        <line key={'ya' + t} x1={X0 - 6.5} x2={X0} y1={yA(t)} y2={yA(t)} stroke="#000" strokeWidth={1.2} />
      ))}
      {outflowLabels.map(t => (
        <text key={'yal' + t} x={X0 - 16} y={yA(t)} dy="0.34em" textAnchor="end" fontSize={tickFs}>{t}</text>
      ))}

      {/* panel b ticks */}
      {xTicks.map(t => (
        <g key={'xb' + t}>
          <line x1={x(t)} x2={x(t)} y1={BOT_B} y2={BOT_B + 6.5} stroke="#000" strokeWidth={1.2} />
          <text x={x(t)} y={BOT_B + 32.5} textAnchor="middle" fontSize={tickFs}>{t}</text>
        </g>
      ))}
      {exitTicks.map(t => (
        <g key={'yb' + t}>
          <line x1={X0 - 6.5} x2={X0} y1={yB(t)} y2={yB(t)} stroke="#000" strokeWidth={1.2} />
          <text x={X0 - 16} y={yB(t)} dy="0.34em" textAnchor="end" fontSize={tickFs}>{t}</text>
        </g>
      ))}

      {/* axis labels */}
      <text x={(X0 + X1) / 2} y={726.5} textAnchor="middle" fontSize={labelFs}>Exit time reduced DEM (s)</text>
      <text transform={`translate(30,${(BOT_A + BOT_B) / 2}) rotate(-90)`} textAnchor="middle" fontSize={labelFs}>
        Exit time resolved DEM (s)
      </text>
      <text transform={`translate(30,${(TOP_A + BOT_A) / 2}) rotate(-90)`} textAnchor="middle" fontSize={labelFs}>
        Outflow
        <tspan fontFamily={MATH_FONT} dx={7}>(</tspan>
        <tspan fontFamily={MATH_FONT} fontStyle="italic" dx={1}>s</tspan>
        <tspan fontFamily={MATH_FONT} fontSize={19} dx={2} dy={-11}>−1</tspan>
        <tspan fontFamily={MATH_FONT} dx={2} dy={11}>)</tspan>
      </text>

      {/* panel labels */}
      <text x={99} y={31.5} fontSize={24}>a)</text>
      <text x={98} y={227} fontSize={24}>b)</text>

      {/* legend a */}
      <rect x={338.3} y={6} width={330} height={74} fill="#fff" stroke="#000" strokeWidth={1.1} />
      <line x1={348} x2={397} y1={27} y2={27} stroke={BLUE} strokeWidth={1.2} strokeOpacity={0.75} />
      <text x={407} y={34.5} fontSize={legendFs}>#particles/s reduced DEM</text>
      <line x1={348} x2={397} y1={58} y2={58} stroke={ORANGE} strokeWidth={1.2} />
      <text x={407} y={65.5} fontSize={legendFs}>#particles/s resolved DEM</text>

      {/* legend b */}
      <rect x={338.3} y={580} width={330} height={75} fill="#fff" stroke="#000" strokeWidth={1.1} />
      <circle cx={378.5} cy={602} r={6.5} fill={BLUE} fillOpacity={0.35} />
      <text x={417} y={608.5} fontSize={legendFs}>Individual exit times</text>
      <line x1={350} x2={408} y1={633} y2={633} stroke={ORANGE} strokeWidth={4.5} />
      <text x={417} y={639.5} fontSize={legendFs}>Ideal, identical exit times</text>
    </svg>
  );
}
